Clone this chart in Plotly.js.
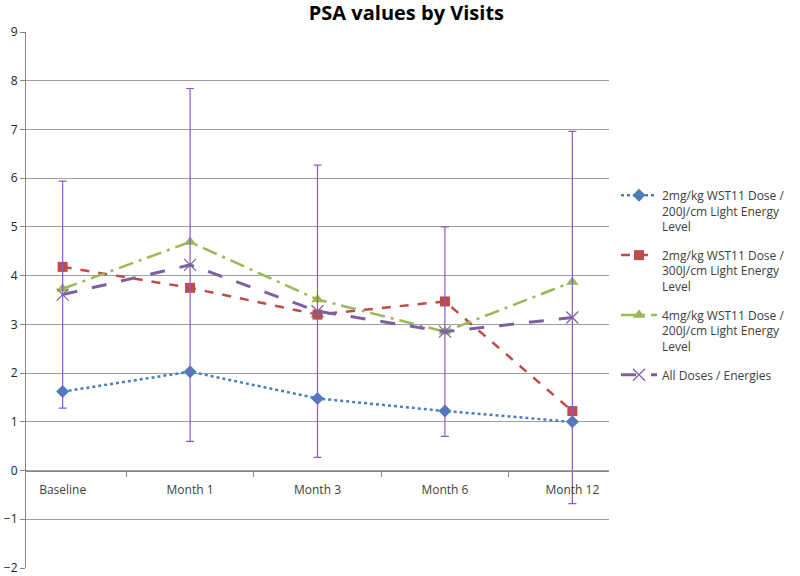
<!DOCTYPE html>
<html>
<head>
<meta charset="utf-8">
<script src="https://cdn.plot.ly/plotly-3.0.1.min.js"></script>
<style>html,body{margin:0;padding:0;background:#fff;}#chart{width:800px;height:576px;}</style>
</head>
<body>
<div id="chart"></div>
<script>
const visits = ["Baseline", "Month 1", "Month 3", "Month 6", "Month 12"];
const dose2mg200J = [1.62, 2.03, 1.48, 1.22, 1.00];
const dose2mg300J = [4.18, 3.75, 3.20, 3.47, 1.22];
const dose4mg200J = [3.73, 4.69, 3.51, 2.85, 3.87];
const allDoses = [3.61, 4.22, 3.27, 2.85, 3.14];
const allDosesErr = [2.33, 3.62, 3.00, 2.15, 3.82];
const seriesNames = [
  "2mg/kg WST11 Dose /<br>200J/cm Light Energy<br>Level",
  "2mg/kg WST11 Dose /<br>300J/cm Light Energy<br>Level",
  "4mg/kg WST11 Dose /<br>200J/cm Light Energy<br>Level",
  "All Doses / Energies"
];
const yTicks = [-2, -1, 0, 1, 2, 3, 4, 5, 6, 7, 8, 9];

const traces = [
  {x: visits, y: dose2mg200J, name: seriesNames[0], legendgroup: "a", mode: "lines+markers",
   line: {color: "#4a7ebb", width: 2.5, dash: "dot"},
   marker: {symbol: "diamond", size: 10, color: "#4a7ebb"}},
  {x: visits, y: dose2mg300J, name: seriesNames[1], legendgroup: "b", mode: "lines+markers",
   line: {color: "#be4b48", width: 2.5, dash: "dash"},
   marker: {symbol: "square", size: 10, color: "#be4b48"}},
  {x: visits, y: dose4mg200J, name: seriesNames[2], legendgroup: "c", mode: "lines+markers",
   line: {color: "#98b954", width: 2.5, dash: "longdashdot"},
   marker: {symbol: "triangle-up", size: 11, color: "#98b954"}},
  {x: visits, y: allDoses, name: seriesNames[3], legendgroup: "d", mode: "lines+markers",
   line: {color: "#7d60a0", width: 3, dash: "longdash"},
   marker: {symbol: "x-thin-open", size: 12, line: {color: "#8a6cc0", width: 1.2}},
   error_y: {type: "data", array: allDosesErr, visible: true, color: "#8a5cc8", thickness: 1.2, width: 4}}
];

const layout = {
  width: 800, height: 576,
  margin: {l: 26, r: 191, t: 32, b: 8},
  paper_bgcolor: "#ffffff", plot_bgcolor: "#ffffff",
  font: {family: "Open Sans, Liberation Sans, sans-serif", size: 11, color: "#404040"},
  title: {text: "<b>PSA values by Visits</b>", x: 0.508, xref: "container", y: 0.978, yanchor: "middle",
          font: {family: "Open Sans, Liberation Sans, sans-serif", size: 20, color: "#000"}},
  xaxis: {type: "category", anchor: "free", position: 2/11, showgrid: false, showline: true,
          linecolor: "#868686", linewidth: 1, ticks: "outside", ticklen: 5, tickcolor: "#868686",
          tickson: "boundaries", ticklabelstandoff: 8, tickfont: {size: 12, color: "#404040"},
          zeroline: false, fixedrange: true},
  yaxis: {range: [-2, 9], tickvals: yTicks, showgrid: true, gridcolor: "#a0a0a0", gridwidth: 1,
          showline: true, linecolor: "#868686", linewidth: 1, ticks: "outside", ticklen: 5,
          tickcolor: "#868686", zeroline: false, ticklabeloverflow: "allow",
          tickfont: {size: 12, color: "#222"}},
  showlegend: true,
  legend: {x: 1.012, xanchor: "left", y: 0.722, yanchor: "top", font: {size: 12, color: "#404040"},
           traceorder: "grouped", valign: "top", itemwidth: 36, tracegroupgap: 10,
           borderwidth: 0, bgcolor: "rgba(0,0,0,0)"}
};

Plotly.newPlot("chart", traces, layout, {displayModeBar: false, staticPlot: true});
</script>
</body>
</html>
